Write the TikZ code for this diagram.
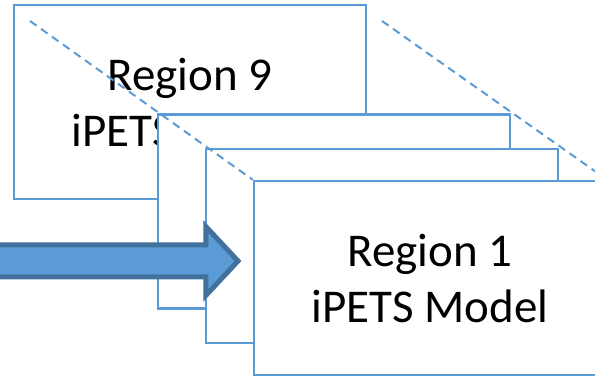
\documentclass[tikz,border=0pt]{standalone}
\usepackage{fontspec}
\setmainfont{Carlito}
\definecolor{boxblue}{HTML}{5B9BD5}
\definecolor{arrowedge}{HTML}{41719C}
\begin{document}
\begin{tikzpicture}[x=1pt,y=-1pt,
  panel/.style={draw=boxblue, line width=2.4pt, fill=white, minimum width=352pt, minimum height=194pt,
    inner sep=0pt, align=center, font=\fontsize{47}{56}\selectfont},
  guide/.style={draw=boxblue, line width=2pt, dash pattern=on 8pt off 5.5pt},
  bigarrow/.style={fill=boxblue, draw=arrowedge, line width=5pt, line join=miter}]
\useasboundingbox (0,0) rectangle (595,377);
\fill[white] (0,0) rectangle (595,377);
\clip (0,0) rectangle (595,377);
\node[panel] (r9) at (190,102) {Region 9\\iPETS Model};
\node[panel] (r3) at (334,211.5) {};
\node[panel] (r2) at (382,246) {};
\node[panel] (r1) at (430,278) {Region 1\\iPETS Model};
\coordinate (gl) at (30,21);
\coordinate (gr) at (382,21);
\draw[guide] (gl) -- (r1.north west);
\draw[guide] (gr) -- (r1.north east);
\draw[bigarrow] (-5,244.8) -- (205.8,244.8) -- (205.8,226.5) -- (238,261) -- (205.8,295.5) -- (205.8,276.8) -- (-5,276.8) -- cycle;
\end{tikzpicture}
\end{document}
